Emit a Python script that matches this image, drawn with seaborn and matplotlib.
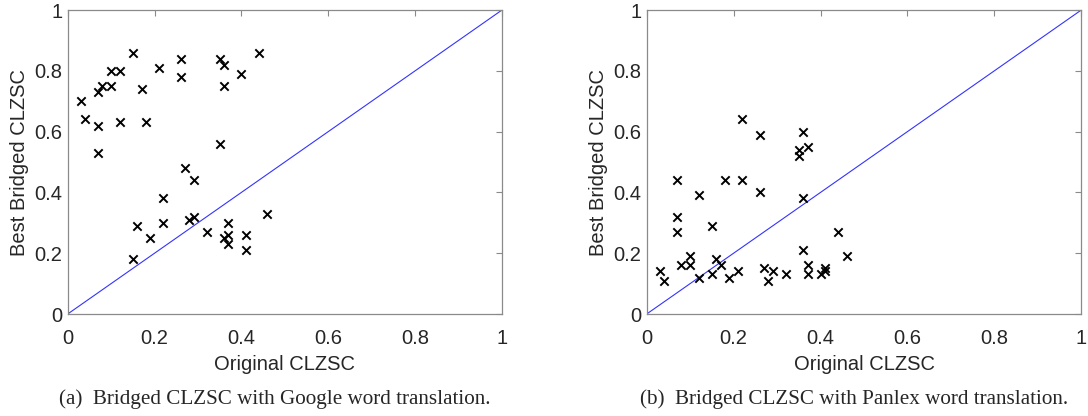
import matplotlib
matplotlib.use("Agg")
import matplotlib.pyplot as plt
import seaborn as sns
import pandas as pd
from matplotlib.ticker import FuncFormatter

# Google panel (a)
google_orig = [0.03, 0.04, 0.07, 0.08, 0.07, 0.07, 0.10, 0.12, 0.10, 0.12, 0.15, 0.17, 0.18,
               0.21, 0.26, 0.26, 0.35, 0.36, 0.36, 0.40, 0.44, 0.35,
               0.27, 0.29, 0.22, 0.16, 0.22, 0.19, 0.15, 0.28, 0.29, 0.32, 0.36, 0.37,
               0.37, 0.37, 0.41, 0.41, 0.46]
google_best = [0.70, 0.64, 0.73, 0.75, 0.62, 0.53, 0.80, 0.80, 0.75, 0.63, 0.86, 0.74, 0.63,
               0.81, 0.84, 0.78, 0.84, 0.82, 0.75, 0.79, 0.86, 0.56,
               0.48, 0.44, 0.38, 0.29, 0.30, 0.25, 0.18, 0.31, 0.32, 0.27, 0.25, 0.30,
               0.26, 0.23, 0.26, 0.21, 0.33]

# Panlex panel (b)
panlex_orig = [0.22, 0.26, 0.36, 0.35, 0.35, 0.37, 0.07, 0.18, 0.22, 0.12, 0.26, 0.36,
               0.07, 0.07, 0.15, 0.44, 0.36, 0.46, 0.10, 0.03, 0.04, 0.08, 0.10, 0.12,
               0.15, 0.16, 0.17, 0.19, 0.21, 0.27, 0.29, 0.28, 0.32, 0.37, 0.37, 0.40,
               0.41, 0.41]
panlex_best = [0.64, 0.59, 0.60, 0.54, 0.52, 0.55, 0.44, 0.44, 0.44, 0.39, 0.40, 0.38,
               0.32, 0.27, 0.29, 0.27, 0.21, 0.19, 0.19, 0.14, 0.11, 0.16, 0.16, 0.12,
               0.13, 0.18, 0.16, 0.12, 0.14, 0.15, 0.14, 0.11, 0.13, 0.16, 0.13, 0.13,
               0.14, 0.15]

diag = [0, 1]
ticks = [0, 0.2, 0.4, 0.6, 0.8, 1]
captions = ["(a)  Bridged CLZSC with Google word translation.",
            "(b)  Bridged CLZSC with Panlex word translation."]

sns.set_style("white")
plt.rcParams['font.family'] = ['Liberation Sans', 'DejaVu Sans']

W, H = 1088, 416
fig = plt.figure(figsize=(W / 100, H / 100), dpi=100)

axes_px = [(67.7, 502.0), (646.7, 1081.3)]
top, bot = 10, 314
datasets = [(google_orig, google_best), (panlex_orig, panlex_best)]

gray = '#8a8a8a'
for i, ((x0, x1), (xs, ys)) in enumerate(zip(axes_px, datasets)):
    ax = fig.add_axes([x0 / W, 1 - bot / H, (x1 - x0) / W, (bot - top) / H])
    df = pd.DataFrame({'orig': xs, 'best': ys})
    sns.lineplot(x=diag, y=diag, ax=ax, color='#3333ff', lw=0.8)
    sns.scatterplot(data=df, x='orig', y='best', ax=ax, marker='x', color='black',
                    s=36, linewidth=1.4, zorder=3)
    ax.set_xlim(0, 1)
    ax.set_ylim(0, 1)
    ax.set_xticks(ticks)
    ax.set_yticks(ticks)
    fmt = FuncFormatter(lambda v, p: ('%g' % v))
    ax.xaxis.set_major_formatter(fmt)
    ax.yaxis.set_major_formatter(fmt)
    ax.tick_params(direction='in', length=4, width=0.8, color=gray, labelsize=14.5,
                   labelcolor='#262626', top=True, right=True, pad=4)
    ax.tick_params(axis='x', pad=11)
    for s in ax.spines.values():
        s.set_color(gray)
        s.set_linewidth(0.9)
    ax.set_xlabel('Original CLZSC', fontsize=14.5, color='#262626', labelpad=5)
    ax.set_ylabel('Best Bridged CLZSC', fontsize=14.5, color='#262626', labelpad=4)
    cx = ((x0 + x1) / 2 - 10) / W
    fig.text(cx, 1 - 399 / H, captions[i], ha='center', va='center',
             fontsize=15.2, family=['Liberation Serif', 'DejaVu Serif'])

fig.savefig('out.png', dpi=100, facecolor='white')
